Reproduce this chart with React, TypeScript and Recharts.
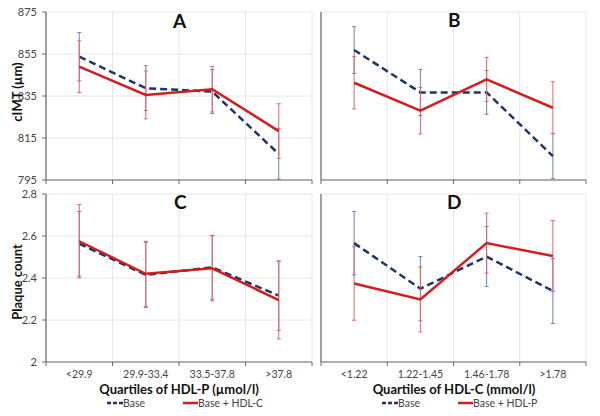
import React from 'react';
import { LineChart, Line, XAxis, YAxis, CartesianGrid, ErrorBar } from 'recharts';

const hdlpCategories = ['<29.9', '29.9-33.4', '33.5-37.8', '>37.8'];
const hdlcCategories = ['<1.22', '1.22-1.45', '1.46-1.78', '>1.78'];

const cimtTicks = [795, 815, 835, 855, 875];
const plaqueTicks = [2, 2.2, 2.4, 2.6, 2.8];

// Panel A: cIMT by quartiles of HDL-P
const aBase = [853.7, 838.7, 837.1, 807.4];
const aBaseErr = [11.5, 10.7, 10.5, 12];
const aAdj = [849, 835.5, 838.2, 818.3];
const aAdjErr = [12.3, 11.4, 10.8, 13];

// Panel B: cIMT by quartiles of HDL-C
const bBase = [856.9, 836.7, 836.7, 806.4];
const bBaseErr = [11.1, 11, 10.4, 10.8];
const bAdj = [841.3, 828, 842.9, 829.4];
const bAdjErr = [12.4, 11.1, 10.5, 12.4];

// Panel C: plaque count by quartiles of HDL-P
const cBase = [2.563, 2.415, 2.451, 2.316];
const cBaseErr = [0.154, 0.155, 0.152, 0.165];
const cAdj = [2.575, 2.42, 2.446, 2.295];
const cAdjErr = [0.175, 0.155, 0.155, 0.185];

// Panel D: plaque count by quartiles of HDL-C
const dBase = [2.566, 2.349, 2.502, 2.338];
const dBaseErr = [0.151, 0.153, 0.143, 0.155];
const dAdj = [2.374, 2.298, 2.566, 2.505];
const dAdjErr = [0.175, 0.155, 0.143, 0.169];

const FONT = "Lato, 'Open Sans', sans-serif";
const AXIS = '#6b6b6b';
const GRID = '#e6e6e6';
const BLUE = '#1f3566';
const BLUE_ERR = '#6f82a8';
const RED = '#cf1f1f';
const RED_ERR = '#e06868';

const buildRows = (base: number[], baseErr: number[], adj: number[], adjErr: number[]) =>
  base.map((v, i) => ({ pos: i + 0.5, base: v, baseErr: baseErr[i], adj: adj[i], adjErr: adjErr[i] }));

const makeTick = (cats: string[], show: boolean) => (props: any) => {
  const { x, y, payload } = props;
  const v = payload.value as number;
  if (Number.isInteger(v)) {
    return <line x1={x} x2={x} y1={y} y2={y + 4} stroke={AXIS} strokeWidth={1} />;
  }
  if (!show) return <g />;
  return (
    <text x={x} y={y + 16} textAnchor="middle" fontSize={10.5} fill="#444" fontFamily={FONT}>
      {cats[Math.floor(v)]}
    </text>
  );
};

type PanelProps = {
  left: number;
  top: number;
  width: number;
  height: number;
  yWidth: number;
  xHeight: number;
  rows: any[];
  cats: string[];
  showX: boolean;
  showY: boolean;
  domain: [number, number];
  ticks: number[];
};

function Panel(p: PanelProps) {
  return (
    <div style={{ position: 'absolute', left: p.left, top: p.top }}>
      <LineChart
        width={p.width}
        height={p.height}
        data={p.rows}
        margin={{ top: 12, right: p.width - p.yWidth - (p.showY ? 266 : 265), left: 0, bottom: 0 }}
      >
        <CartesianGrid stroke={GRID} verticalValues={[0, 1, 2, 3, 4]} />
        <XAxis
          dataKey="pos"
          type="number"
          domain={[0, 4]}
          ticks={[0, 0.5, 1, 1.5, 2, 2.5, 3, 3.5, 4]}
          interval={0}
          tickLine={false}
          tickSize={0}
          tickMargin={0}
          tick={makeTick(p.cats, p.showX)}
          axisLine={{ stroke: AXIS, strokeWidth: 1.2 }}
          height={p.xHeight}
          allowDataOverflow
        />
        <YAxis
          type="number"
          domain={p.domain}
          ticks={p.ticks}
          interval={0}
          width={p.yWidth}
          allowDataOverflow
          axisLine={{ stroke: AXIS, strokeWidth: 1.2 }}
          tickLine={p.showY ? { stroke: AXIS } : false}
          tickSize={4}
          tickMargin={5}
          tick={p.showY ? { fontSize: 11, fill: '#444', fontFamily: FONT } : false}
          tickFormatter={(v: number) => String(v)}
        />
        <Line
          type="linear"
          dataKey="base"
          stroke={BLUE}
          strokeWidth={2.5}
          strokeDasharray="7 4"
          dot={false}
          activeDot={false}
          isAnimationActive={false}
        >
          <ErrorBar dataKey="baseErr" direction="y" width={2} stroke={BLUE_ERR} strokeWidth={1} />
        </Line>
        <Line
          type="linear"
          dataKey="adj"
          stroke={RED}
          strokeWidth={2.5}
          dot={false}
          activeDot={false}
          isAnimationActive={false}
        >
          <ErrorBar dataKey="adjErr" direction="y" width={2} stroke={RED_ERR} strokeWidth={1} />
        </Line>
      </LineChart>
    </div>
  );
}

const absText = (left: number, top: number, text: string, style: React.CSSProperties = {}) => (
  <div style={{ position: 'absolute', left, top, whiteSpace: 'nowrap', fontFamily: FONT, ...style }}>{text}</div>
);

const legendTextStyle: React.CSSProperties = { fontSize: 10.5, lineHeight: '11px', color: '#444' };

function LegendRow({ left, top, redLeft, redLabel }: { left: number; top: number; redLeft: number; redLabel: string }) {
  return (
    <div style={{ position: 'absolute', left: 0, top: 0 }}>
      <svg style={{ position: 'absolute', left, top: top - 2 }} width={16} height={4}>
        <line x1={0} x2={16} y1={2} y2={2} stroke={BLUE} strokeWidth={2.5} strokeDasharray="4 2" />
      </svg>
      {absText(left + 16, top - 5.5, 'Base', legendTextStyle)}
      <svg style={{ position: 'absolute', left: redLeft, top: top - 2 }} width={15} height={4}>
        <line x1={0} x2={15} y1={2} y2={2} stroke={RED} strokeWidth={2.5} />
      </svg>
      {absText(redLeft + 15, top - 5.5, redLabel, legendTextStyle)}
    </div>
  );
}

const titleStyle: React.CSSProperties = { fontSize: 19, lineHeight: '22px', fontWeight: 700, color: '#111' };
const axisTitleStyle: React.CSSProperties = {
  position: 'absolute',
  whiteSpace: 'nowrap',
  fontSize: 13,
  lineHeight: '14px',
  fontWeight: 700,
  color: '#111',
  fontFamily: FONT,
};

export default function App() {
  return (
    <div style={{ position: 'absolute', left: 0, top: 0, width: 600, height: 416, background: '#fff', overflow: 'hidden', fontFamily: FONT }}>
      <Panel left={0} top={0} width={316} height={188} yWidth={46} xHeight={8}
        rows={buildRows(aBase, aBaseErr, aAdj, aAdjErr)} cats={hdlpCategories} showX={false} showY
        domain={[795, 875]} ticks={cimtTicks} />
      <Panel left={311} top={0} width={281} height={188} yWidth={10} xHeight={8}
        rows={buildRows(bBase, bBaseErr, bAdj, bAdjErr)} cats={hdlcCategories} showX={false} showY={false}
        domain={[795, 875]} ticks={cimtTicks} />
      <Panel left={0} top={182} width={316} height={200} yWidth={46} xHeight={20}
        rows={buildRows(cBase, cBaseErr, cAdj, cAdjErr)} cats={hdlpCategories} showX showY
        domain={[2, 2.8]} ticks={plaqueTicks} />
      <Panel left={311} top={182} width={281} height={200} yWidth={10} xHeight={20}
        rows={buildRows(dBase, dBaseErr, dAdj, dAdjErr)} cats={hdlcCategories} showX showY={false}
        domain={[2, 2.8]} ticks={plaqueTicks} />

      {absText(173, 10, 'A', titleStyle)}
      {absText(448, 9, 'B', titleStyle)}
      {absText(174, 191, 'C', titleStyle)}
      {absText(447, 191, 'D', titleStyle)}

      <div style={{ ...axisTitleStyle, left: 17, top: 92, transform: 'translate(-50%, -50%) rotate(-90deg)' }}>cIMT (µm)</div>
      <div style={{ ...axisTitleStyle, left: 17, top: 282, transform: 'translate(-50%, -50%) rotate(-90deg)' }}>Plaque count</div>

      <div style={{ ...axisTitleStyle, left: 179, top: 389, transform: 'translate(-50%, -50%)' }}>Quartiles of HDL-P (µmol/l)</div>
      <div style={{ ...axisTitleStyle, left: 454, top: 389, transform: 'translate(-50%, -50%)' }}>Quartiles of HDL-C (mmol/l)</div>

      <LegendRow left={107} top={403} redLeft={183} redLabel="Base + HDL-C" />
      <LegendRow left={382} top={403} redLeft={458} redLabel="Base + HDL-P" />
    </div>
  );
}
